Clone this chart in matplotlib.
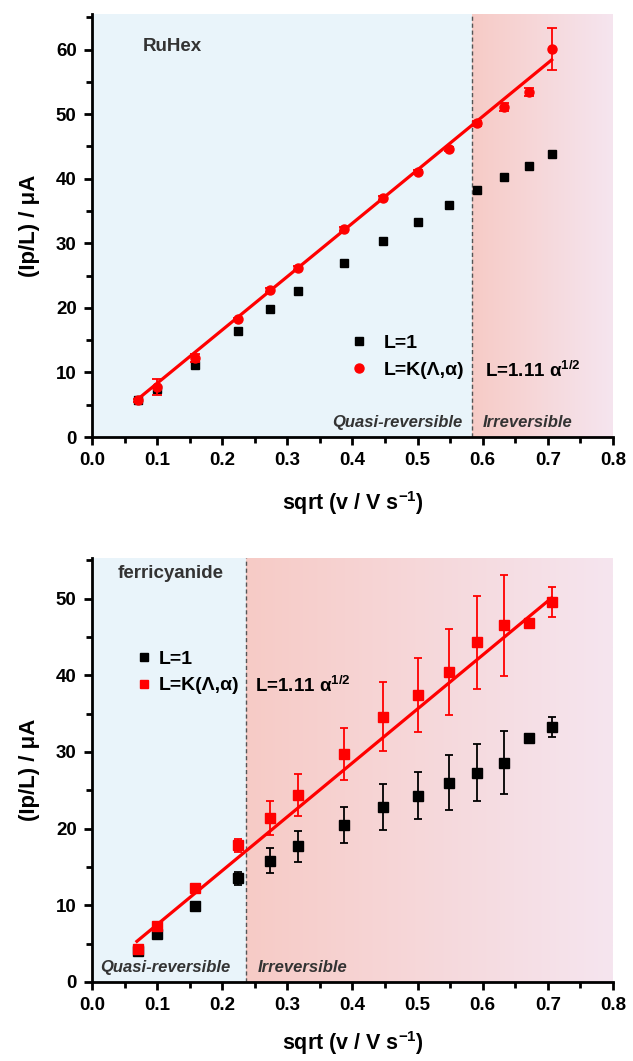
import matplotlib.pyplot as plt
import matplotlib.colors as mcolors
from matplotlib.lines import Line2D
from matplotlib.ticker import MultipleLocator
import numpy as np

plt.rcParams['font.family'] = ['Liberation Sans', 'DejaVu Sans']
plt.rcParams['font.weight'] = 'bold'
plt.rcParams['mathtext.fontset'] = 'custom'
plt.rcParams['mathtext.rm'] = 'Liberation Sans:bold'
plt.rcParams['mathtext.it'] = 'Liberation Sans:bold'
plt.rcParams['mathtext.bf'] = 'Liberation Sans:bold'

# scan rates as sqrt(v / V s^-1)
sqrt_v = [0.0707, 0.1, 0.158, 0.224, 0.274, 0.316, 0.387, 0.447, 0.5, 0.548,
          0.592, 0.632, 0.671, 0.707]

# RuHex
ru_l1 = [5.7, 7.4, 11.2, 16.4, 19.8, 22.6, 26.9, 30.3, 33.3, 35.9, 38.2, 40.2, 42.0, 43.8]
ru_l1_err = [0.2, 0.5, 0.3, 0.3, 0.3, 0.3, 0.3, 0.3, 0.3, 0.3, 0.3, 0.3, 0.3, 0.3]
ru_lk = [5.7, 7.8, 12.2, 18.2, 22.8, 26.2, 32.2, 37.0, 41.1, 44.6, 48.6, 51.1, 53.4, 60.1]
ru_lk_err = [0.2, 1.25, 0.6, 0.3, 0.3, 0.3, 0.3, 0.3, 0.3, 0.3, 0.4, 0.6, 0.6, 3.3]
ru_fit_x = [0.069, 0.706]
ru_fit_y = [5.75, 58.4]
ru_boundary = 0.584

# ferricyanide
fe_l1 = [4.1, 6.3, 9.9, 13.5, 15.8, 17.7, 20.5, 22.8, 24.3, 26.0, 27.3, 28.6, 31.8, 33.3]
fe_l1_err = [0.3, 0.3, 0.3, 0.9, 1.65, 2.0, 2.35, 3.0, 3.1, 3.6, 3.75, 4.1, 0.3, 1.3]
fe_lk = [4.3, 7.3, 12.2, 17.8, 21.4, 24.4, 29.7, 34.6, 37.4, 40.4, 44.3, 46.5, 46.8, 49.6]
fe_lk_err = [0.4, 0.3, 0.3, 0.9, 2.2, 2.7, 3.4, 4.5, 4.8, 5.6, 6.1, 6.6, 0.6, 1.95]
fe_fit_x = [0.069, 0.706]
fe_fit_y = [5.3, 50.1]
fe_boundary = 0.237

xticks = [0.0, 0.1, 0.2, 0.3, 0.4, 0.5, 0.6, 0.7, 0.8]

BLUE = '#e9f4fa'
SALMON = '#f7cbc6'
PINK = '#f5e5ef'
RED = '#ff0000'
GREY = '#333333'


def shade(ax, boundary, ymax):
    ax.axvspan(0, boundary, color=BLUE, zorder=0, lw=0)
    cmap = mcolors.LinearSegmentedColormap.from_list('irr', [SALMON, PINK])
    grad = np.linspace(0, 1, 256).reshape(1, -1)
    ax.imshow(grad, extent=[boundary, 0.8, 0, ymax], aspect='auto',
              cmap=cmap, zorder=0, origin='lower')
    ax.axvline(boundary, color='#555555', ls=(0, (3, 2)), lw=1.0, zorder=1)


def style_axes(ax, ymax, ystep, xlab_y):
    ax.set_xlim(0, 0.8)
    ax.set_ylim(0, ymax)
    ax.set_xticks(xticks)
    ax.xaxis.set_minor_locator(MultipleLocator(0.05))
    ax.yaxis.set_major_locator(MultipleLocator(ystep))
    ax.yaxis.set_minor_locator(MultipleLocator(ystep / 2))
    ax.tick_params(which='major', direction='out', length=6, width=2,
                   labelsize=13.5, pad=5)
    ax.tick_params(which='minor', direction='out', length=4, width=2)
    for s in ['top', 'right']:
        ax.spines[s].set_visible(False)
    for s in ['left', 'bottom']:
        ax.spines[s].set_linewidth(2)
    for lab in ax.get_xticklabels() + ax.get_yticklabels():
        lab.set_fontweight('bold')
    ax.set_xlabel(r'sqrt (v / V s$^{-1}$)', fontsize=15.5, fontweight='bold')
    ax.set_ylabel(r'(Ip/L) / μA', fontsize=16, fontweight='bold')
    ax.xaxis.set_label_coords(0.5, xlab_y)
    ax.yaxis.set_label_coords(-0.10, 0.5)


fig = plt.figure(figsize=(6.33, 10.61), dpi=100)
ax1 = fig.add_axes([0.1453, 0.5881, 0.823, 0.3987])
ax2 = fig.add_axes([0.1453, 0.0745, 0.823, 0.3996])

# --- RuHex panel ---
ymax1 = 65.5
shade(ax1, ru_boundary, ymax1)
ax1.errorbar(sqrt_v, ru_l1, yerr=ru_l1_err, fmt='s', color='black', ms=6,
             capsize=3, elinewidth=1.2, capthick=1.2, zorder=3)
ax1.errorbar(sqrt_v, ru_lk, yerr=ru_lk_err, fmt='o', color=RED, ms=6.5,
             capsize=3.5, elinewidth=1.3, capthick=1.3, zorder=4)
ax1.plot(ru_fit_x, ru_fit_y, color=RED, lw=2.3, zorder=5)
style_axes(ax1, ymax1, 10, -0.122)
ax1.text(0.078, 60.4, 'RuHex', fontsize=13.5, fontweight='bold', color=GREY,
         va='center', ha='left')
ax1.text(ru_boundary - 0.015, 2.3, 'Quasi-reversible', fontsize=12,
         fontweight='bold', style='italic', color=GREY, ha='right', va='center')
ax1.text(ru_boundary + 0.016, 2.3, 'Irreversible', fontsize=12,
         fontweight='bold', style='italic', color=GREY, ha='left', va='center')
ax1.text(0.603, 10.3, r'L=1.11 α$^{1/2}$', fontsize=13.5,
         fontweight='bold', color='black', ha='left', va='center')
h1 = [Line2D([], [], ls='', marker='s', color='black', ms=6),
      Line2D([], [], ls='', marker='o', color=RED, ms=6.5)]
ax1.legend(h1, ['L=1', 'L=K(Λ,α)'], loc='center left', bbox_to_anchor=(0.501, 0.19),
           frameon=False, prop={'size': 14, 'weight': 'bold'}, handlelength=0.6,
           handletextpad=1.0, labelspacing=0.45, borderpad=0, borderaxespad=0)

# --- ferricyanide panel ---
ymax2 = 55.3
shade(ax2, fe_boundary, ymax2)
ax2.errorbar(sqrt_v, fe_l1, yerr=fe_l1_err, fmt='s', color='black', ms=6.5,
             capsize=3, elinewidth=1.3, capthick=1.3, zorder=3)
ax2.errorbar(sqrt_v, fe_lk, yerr=fe_lk_err, fmt='s', color=RED, ms=6.5,
             capsize=3, elinewidth=1.3, capthick=1.3, zorder=4)
ax2.plot(fe_fit_x, fe_fit_y, color=RED, lw=2.3, zorder=5)
style_axes(ax2, ymax2, 10, -0.112)
ax2.text(0.04, 53.3, 'ferricyanide', fontsize=13.5, fontweight='bold', color=GREY,
         va='center', ha='left')
ax2.text(fe_boundary - 0.024, 1.9, 'Quasi-reversible', fontsize=12,
         fontweight='bold', style='italic', color=GREY, ha='right', va='center')
ax2.text(fe_boundary + 0.017, 1.9, 'Irreversible', fontsize=12,
         fontweight='bold', style='italic', color=GREY, ha='left', va='center')
ax2.text(0.25, 38.6, r'L=1.11 α$^{1/2}$', fontsize=13.5,
         fontweight='bold', color='black', ha='left', va='center')
h2 = [Line2D([], [], ls='', marker='s', color='black', ms=5.5),
      Line2D([], [], ls='', marker='s', color=RED, ms=5.5)]
ax2.legend(h2, ['L=1', 'L=K(Λ,α)'], loc='center left', bbox_to_anchor=(0.088, 0.73),
           frameon=False, prop={'size': 14, 'weight': 'bold'}, handlelength=0.6,
           handletextpad=0.5, labelspacing=0.45, borderpad=0, borderaxespad=0)

plt.savefig('out.png', dpi=100)
plt.close()
